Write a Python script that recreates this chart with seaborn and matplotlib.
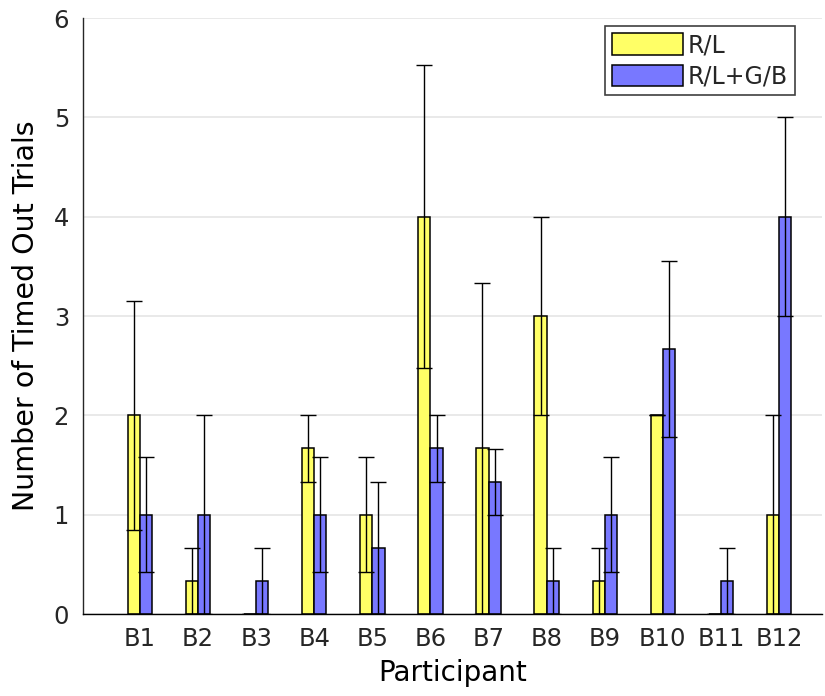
import matplotlib
matplotlib.use("Agg")
import matplotlib.pyplot as plt
import numpy as np
import pandas as pd
import seaborn as sns

# Mean number of timed-out trials per participant and condition, with standard errors
participants = ["B1", "B2", "B3", "B4", "B5", "B6", "B7", "B8", "B9", "B10", "B11", "B12"]
conditions = ["R/L", "R/L+G/B"]
rl_mean = [2.0, 0.333, 0.0, 1.667, 1.0, 4.0, 1.667, 3.0, 0.333, 2.0, 0.0, 1.0]
rl_err = [1.155, 0.333, 0.0, 0.333, 0.577, 1.528, 1.667, 1.0, 0.333, 0.0, 0.0, 1.0]
gb_mean = [1.0, 1.0, 0.333, 1.0, 0.667, 1.667, 1.333, 0.333, 1.0, 2.667, 0.333, 4.0]
gb_err = [0.577, 1.0, 0.333, 0.577, 0.667, 0.333, 0.333, 0.333, 0.577, 0.882, 0.333, 1.0]
yticks = [0, 1, 2, 3, 4, 5, 6]

colors = ["#ffff66", "#7878ff"]
text_color = "#262626"

df = pd.DataFrame({
    "Participant": participants * 2,
    "Condition": [conditions[0]] * len(participants) + [conditions[1]] * len(participants),
    "Trials": rl_mean + gb_mean,
})

sns.set_style("white")
plt.rcParams["font.family"] = ["DejaVu Sans"]

fig = plt.figure(figsize=(8.25, 6.96), dpi=100)
ax = fig.add_axes([0.1006, 0.1178, 0.8958, 0.8563])

sns.barplot(data=df, x="Participant", y="Trials", hue="Condition",
            order=participants, hue_order=conditions, palette=colors,
            saturation=1, width=0.42, errorbar=None, edgecolor="black",
            linewidth=1.1, ax=ax, zorder=3)

# Error bars centred on each bar
for container, errs in zip(ax.containers, [rl_err, gb_err]):
    xs = [p.get_x() + p.get_width() / 2 for p in container.patches]
    ys = [p.get_height() for p in container.patches]
    ax.errorbar(xs, ys, yerr=errs, fmt="none", ecolor="black",
                elinewidth=1.0, capsize=5.8, capthick=1.0, zorder=4)

ax.set_xlim(-0.98, 11.74)
ax.set_ylim(0, 6)
ax.set_yticks(yticks)
ax.yaxis.grid(True, color="#e3e3e3", linewidth=1.1, zorder=0)
ax.set_axisbelow(True)

for side in ["top", "right"]:
    ax.spines[side].set_visible(False)
ax.spines["left"].set_color(text_color)
ax.spines["left"].set_linewidth(1.0)
ax.spines["bottom"].set_color("black")
ax.spines["bottom"].set_linewidth(1.0)
ax.spines["bottom"].set_zorder(5)

ax.tick_params(axis="y", direction="in", length=5.3, width=1.0, color=text_color,
               labelsize=17.5, labelcolor=text_color, pad=10)
ax.tick_params(axis="x", length=0, labelsize=17.5, labelcolor=text_color, pad=9)

ax.set_xlabel("Participant", fontsize=20, color="black", labelpad=6)
ax.set_ylabel("Number of Timed Out Trials", fontsize=20.5, color="black", labelpad=10)

handles, labels = ax.get_legend_handles_labels()
leg = ax.legend(handles, labels, loc="upper right", bbox_to_anchor=(0.9634, 0.9866),
                borderaxespad=0, fontsize=17, frameon=True, fancybox=False,
                framealpha=1, edgecolor="#404040", handlelength=3.0,
                handleheight=1.0, handletextpad=0.2, labelspacing=0.3,
                borderpad=0.3)
leg.get_frame().set_linewidth(1.2)

fig.savefig("out.png", dpi=100)
